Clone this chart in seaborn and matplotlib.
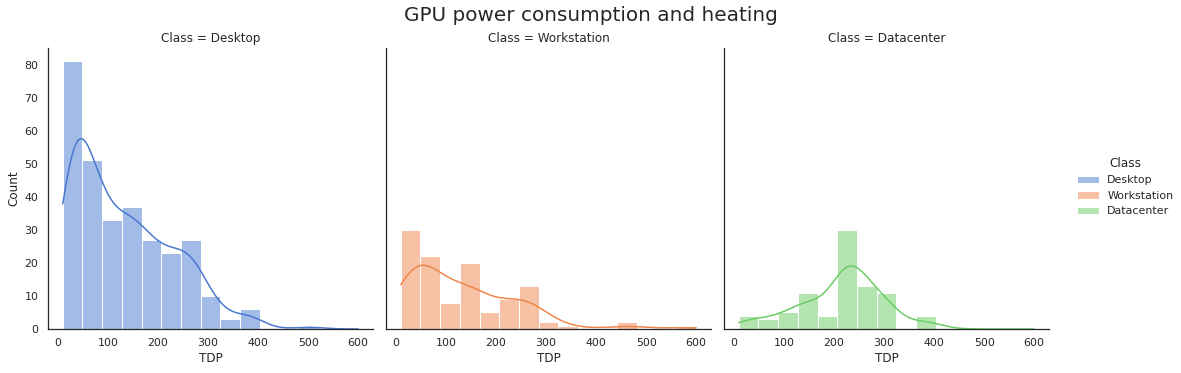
import numpy as np
import pandas as pd
import seaborn as sns
import matplotlib.pyplot as plt

# gpu classes and histogram counts (15 common bins, 10..600 W)
classes = ['Desktop', 'Workstation', 'Datacenter']
tdp_min, tdp_max, n_bins = 10, 600, 15
desktop_counts = [81, 51, 33, 37, 27, 23, 27, 10, 3, 6, 0, 0, 1, 0, 0]
workstation_counts = [30, 22, 8, 20, 5, 9, 13, 2, 1, 0, 0, 2, 0, 0, 1]
datacenter_counts = [4, 3, 5, 11, 4, 30, 13, 11, 0, 4, 0, 0, 0, 0, 0]


if __name__ == '__main__':
    bin_edges = np.linspace(tdp_min, tdp_max, n_bins + 1)
    bin_mid = (bin_edges[:-1] + bin_edges[1:]) / 2

    # expand the counts into one row per gpu
    frames = []
    for name, counts in zip(classes, [desktop_counts, workstation_counts, datacenter_counts]):
        frames.append(pd.DataFrame({'TDP': np.repeat(bin_mid, counts), 'Class': name}))
    gpus = pd.concat(frames, ignore_index=True)

    sns.set_theme(style='white')
    g = sns.displot(data=gpus, x='TDP', col='Class', hue='Class', hue_order=classes,
                    col_order=classes, palette='muted', kde=True, bins=bin_edges,
                    kde_kws=dict(cut=1, clip=(tdp_min, tdp_max)), height=5, aspect=1)
    g.figure.set_size_inches(1181 / 72, 373 / 72)
    g.figure.subplots_adjust(left=48 / 1181, right=1049 / 1181, bottom=44 / 373,
                             top=325 / 373, wspace=13 / 325)
    g.figure.suptitle('GPU power consumption and heating', fontsize=20, y=0.985)
    sns.move_legend(g, 'center right', bbox_to_anchor=(1.002, 0.5))

    plt.savefig('out.png', dpi=72)
    print("ok")
